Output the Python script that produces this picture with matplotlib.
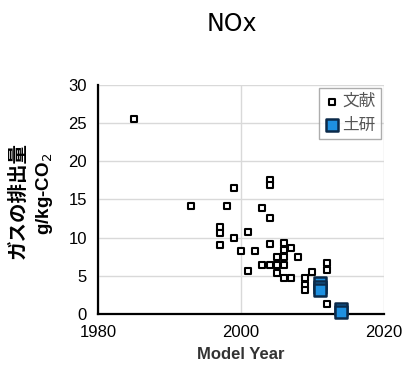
import numpy as np
import matplotlib.pyplot as plt

plt.rcParams['font.family'] = ['Liberation Sans', 'Noto Sans CJK JP', 'DejaVu Sans']

# literature values (文献)
lit_year = [1985, 1993, 1998, 1999, 2004, 2004, 2003, 2004, 1997, 1997, 1997, 1999,
            2001, 2000, 2002, 2004, 2001, 2003, 2004, 2005, 2005, 2005, 2006, 2006,
            2007, 2006, 2006, 2006, 2007, 2008, 2010, 2009, 2009, 2009, 2012, 2012,
            2012]
lit_nox = [25.5, 14.2, 14.1, 16.5, 17.6, 16.9, 13.9, 12.5, 11.4, 10.6, 9.0, 9.9,
           10.7, 8.2, 8.2, 9.2, 5.6, 6.4, 6.4, 7.4, 6.4, 5.4, 9.3, 8.4,
           8.6, 7.4, 6.4, 4.7, 4.7, 7.4, 5.5, 4.7, 3.8, 3.1, 6.7, 5.8,
           1.3]

# PWRI measurements (土研)
pwri_year = [2011, 2011, 2011, 2014, 2014]
pwri_nox = [4.0, 3.5, 3.1, 0.6, 0.3]

fig = plt.figure(figsize=(4.05, 3.72), dpi=100)
ax = fig.add_axes([0.242, 0.156, 0.706, 0.616])

ax.scatter(lit_year, lit_nox, marker='s', s=22, facecolor='white',
           edgecolor='black', linewidth=1.5, label='文献', zorder=3)
ax.scatter(pwri_year, pwri_nox, marker='s', s=80, facecolor='#1e90e0',
           edgecolor='#0b2a4a', linewidth=1.8, label='土研', zorder=4,
           clip_on=False)

ax.set_xlim(1980, 2020)
ax.set_ylim(0, 30)
ax.set_xticks([1980, 2000, 2020])
ax.set_yticks(range(0, 31, 5))
ax.tick_params(length=0, labelsize=12, pad=8)
ax.grid(True, color='#d9d9d9', linewidth=1)
ax.set_axisbelow(True)
for s in ['top', 'right']:
    ax.spines[s].set_visible(False)
for s in ['left', 'bottom']:
    ax.spines[s].set_linewidth(1.6)

ax.set_xlabel('Model Year', fontsize=12, fontweight='bold', color='#333333', labelpad=5)
fig.text(0.045, 0.46, 'ガスの排出量', rotation=90, ha='center', va='center',
         fontsize=14, fontweight='bold', family=['Noto Sans CJK JP'])
fig.text(0.11, 0.48, 'g/kg-CO$_2$', rotation=90, ha='center', va='center',
         fontsize=13.5, fontweight='bold')

fig.text(0.573, 0.935, 'NOx', ha='center', va='center', fontsize=17,
         family=['Liberation Sans Narrow', 'DejaVu Sans'])

leg = ax.legend(loc='upper right', frameon=True, fancybox=False,
                handletextpad=0.1, borderpad=0.3, labelspacing=0.4,
                handlelength=1.0, borderaxespad=0.2,
                prop={'family': ['Noto Sans CJK JP'], 'size': 12})
leg.get_frame().set_edgecolor('#999999')
leg.get_frame().set_linewidth(1)
for t in leg.get_texts():
    t.set_color('#555555')

fig.savefig('out.png', dpi=100)
